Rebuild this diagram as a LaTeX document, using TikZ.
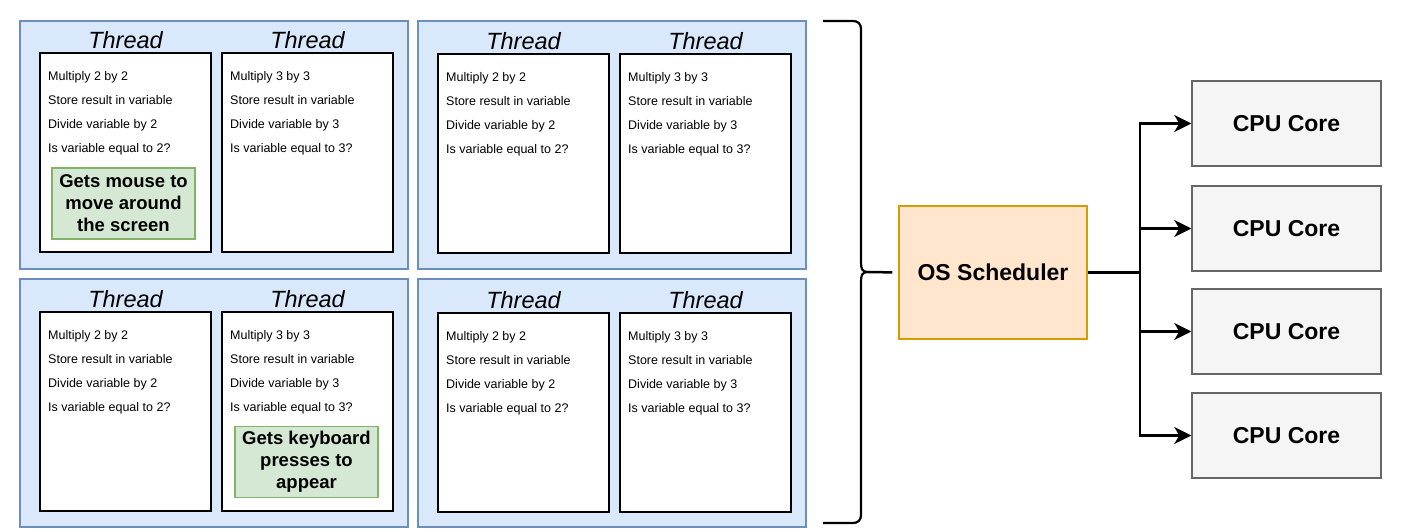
\documentclass[tikz,border=0pt]{standalone}
\usepackage{fontspec}
\setmainfont{Liberation Sans}
\usetikzlibrary{arrows.meta}
\definecolor{panelfill}{HTML}{DAE8FC}
\definecolor{panelline}{HTML}{6C8EBF}
\definecolor{notefill}{HTML}{D5E8D4}
\definecolor{noteline}{HTML}{82B366}
\definecolor{schedfill}{HTML}{FFE6CC}
\definecolor{schedline}{HTML}{D79B00}
\definecolor{corefill}{HTML}{F5F5F5}
\definecolor{coreline}{HTML}{666666}
\newcommand\mythread[4]{%
  \node[threadbox, anchor=north west] (#1) at (#2,#3) {};
  \node[threadlabel] (#1-l) at ([yshift=12pt]#1.north) {Thread};
  \node[stepline] (#1-a) at ([xshift=9pt,yshift=-28.5pt]#1.north west) {Multiply #4 by #4};
  \node[stepline] (#1-b) at ([xshift=9pt,yshift=-52.5pt]#1.north west) {Store result in variable};
  \node[stepline] (#1-c) at ([xshift=9pt,yshift=-76.5pt]#1.north west) {Divide variable by #4};
  \node[stepline] (#1-d) at ([xshift=9pt,yshift=-100.5pt]#1.north west) {Is variable equal to #4?};
}
\begin{document}
\begin{tikzpicture}[x=1pt,y=-1pt,
  panel/.style={draw=panelline, fill=panelfill, line width=1.5pt, inner sep=0pt, minimum width=388pt, minimum height=248pt},
  threadbox/.style={draw=black, fill=white, line width=2pt, inner sep=0pt, minimum width=171pt, minimum height=199pt},
  threadlabel/.style={font=\fontsize{23.5}{23.5}\selectfont\itshape, inner sep=0pt},
  stepline/.style={font=\fontsize{12.5}{14}\selectfont, anchor=base west, inner sep=0pt},
  note/.style={draw=noteline, fill=notefill, line width=1.5pt, align=center, font=\fontsize{18.5}{22}\selectfont\bfseries, inner sep=0pt, minimum width=143pt, minimum height=71pt},
  sched/.style={draw=schedline, fill=schedfill, line width=1.5pt, font=\fontsize{23}{23}\selectfont\bfseries, inner sep=0pt, minimum width=188pt, minimum height=133pt},
  core/.style={draw=coreline, fill=corefill, line width=1.5pt, font=\fontsize{23}{23}\selectfont\bfseries, inner sep=0pt, minimum width=189pt, minimum height=85pt},
  bracestyle/.style={draw=black, line width=2.2pt},
  conn/.style={draw=black, line width=2.5pt},
  arr/.style={conn, -{Stealth[length=17pt, width=17pt, inset=5pt]}}
]
\fill[white] (0,0) rectangle (1401,532);
\useasboundingbox (0,0) rectangle (1401,532);

% panels
\node[panel] (pTL) at (214,145) {};
\node[panel] (pTR) at (612,145) {};
\node[panel] (pBL) at (214,403) {};
\node[panel] (pBR) at (612,403) {};

% threads
\mythread{t1}{39}{52}{2}
\mythread{t2}{221}{52}{3}
\mythread{t3}{437}{53}{2}
\mythread{t4}{619}{53}{3}
\mythread{t5}{39}{311}{2}
\mythread{t6}{221}{311}{3}
\mythread{t7}{437}{312}{2}
\mythread{t8}{619}{312}{3}

% notes
\node[note] (n1) at (123.5,203.5) {Gets mouse to\\move around\\the screen};
\node[note] (n2) at (306.5,462) {Gets keyboard\\presses to\\appear};

% brace
\draw[bracestyle] (823,21) -- (853,21) .. controls (858,21) and (861,24) .. (861,29)
  -- (861,262) .. controls (861,269) and (862,272) .. (868,272)
  .. controls (862,272) and (861,275) .. (861,282)
  -- (861,515) .. controls (861,520) and (858,523) .. (853,523) -- (823,523);
\coordinate (bt) at (868,272);

% scheduler and cores
\node[sched] (os) at (993,272.5) {OS Scheduler};
\node[core] (c1) at (1286.5,123.5) {CPU Core};
\node[core] (c2) at (1286.5,228.5) {CPU Core};
\node[core] (c3) at (1286.5,331.5) {CPU Core};
\node[core] (c4) at (1286.5,435.5) {CPU Core};

\draw[conn, shorten >=6pt] (bt) -- (os.west);
\coordinate (split) at (1140,272.5);
\draw[conn] (os.east) -- (split);
\draw[arr] (split) |- (c1.west);
\draw[arr] (split) |- (c2.west);
\draw[arr] (split) |- (c3.west);
\draw[arr] (split) |- (c4.west);
\end{tikzpicture}
\end{document}
